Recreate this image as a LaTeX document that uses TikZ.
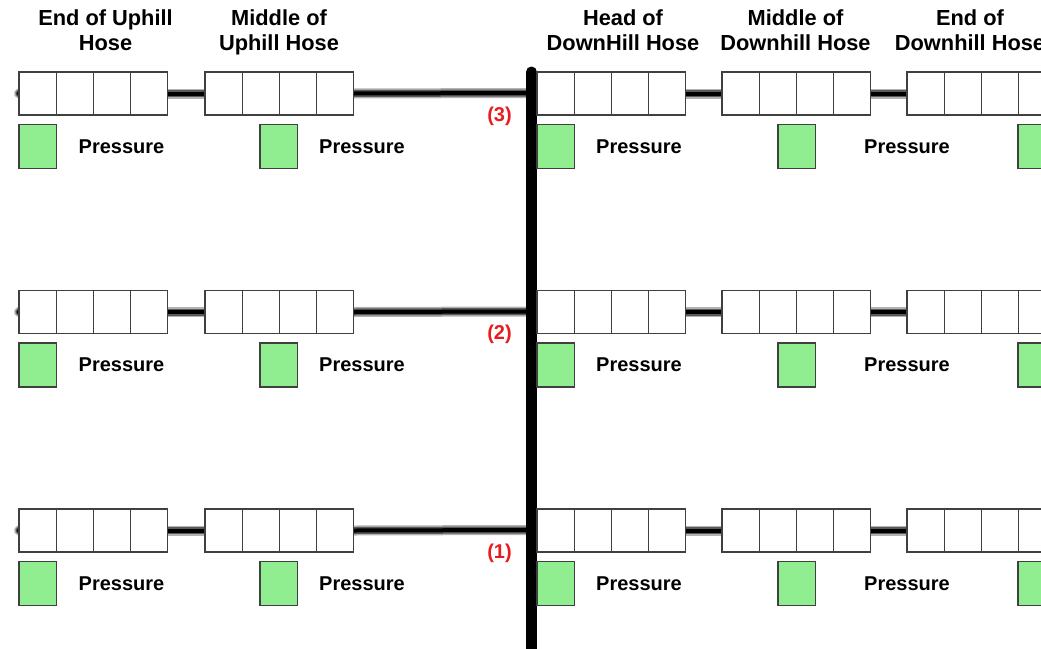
\documentclass[tikz,border=0pt]{standalone}
\usepackage{fontspec}
\setmainfont{Liberation Sans}
\pgfdeclarelayer{bg}
\pgfsetlayers{bg,main}
\definecolor{gaugegreen}{RGB}{144,238,144}
\definecolor{labred}{RGB}{232,28,28}
\begin{document}
\begin{tikzpicture}[x=1pt,y=-1pt,
  cell/.style={draw=black!75,line width=1.3pt,fill=white,minimum width=37.2pt,minimum height=43pt,inner sep=0pt,outer sep=0pt,anchor=north west},
  gauge/.style={draw=black!75,line width=1.3pt,fill=gaugegreen,minimum width=37.5pt,minimum height=44pt,inner sep=0pt,outer sep=0pt,anchor=north west},
  ptext/.style={font=\bfseries\fontsize{20}{24}\selectfont,inner sep=0pt},
  head/.style={font=\bfseries\fontsize{21.8}{25}\selectfont,align=center,inner sep=0pt},
  rowlab/.style={text=labred,font=\bfseries\fontsize{20}{24}\selectfont,inner sep=0pt},
  hoseA/.style={line width=10pt,draw=black!30},
  hoseB/.style={line width=7pt,draw=black!65},
  hoseC/.style={line width=4pt,draw=black},
  barline/.style={line width=11pt,draw=black,line cap=round}
]
\useasboundingbox (0,0) rectangle (1041,648);
\clip (0,0) rectangle (1041,648);

% headers
\node[head] (h1) at (105.5,33) {End of Uphill\strut\\Hose\strut};
\node[head] (h2) at (279,33) {Middle of\strut\\Uphill Hose\strut};
\node[head] (h3) at (623,33) {Head of\strut\\DownHill Hose\strut};
\node[head] (h4) at (795.5,33) {Middle of\strut\\Downhill Hose\strut};
\node[head] (h5) at (970,33) {End of\strut\\Downhill Hose\strut};

% main bar
\coordinate (bartop) at (531.5,72);
\coordinate (barbot) at (531.5,660);
\draw[barline] (bartop) -- (barbot);

\foreach \r/\t/\lab in {1/72/3,2/290.5/2,3/509/1}{
  % cells
  \foreach \g/\gx in {1/19,2/205,3/537,4/722,5/907}{
    \foreach \i in {1,2,3,4}{
      \node[cell] (c-\r-\g-\i) at ({\gx+37.2*(\i-1)},\t) {};
    }
  }
  % gauges
  \foreach \g/\gx in {1/19,2/260,3/537,4/778,5/1018}{
    \node[gauge] (gr-\r-\g) at (\gx,{\t+52.5}) {};
  }
  % pressure labels
  \foreach \g/\px in {1/121.5,2/362,3/639,4/907}{
    \node[ptext] (p-\r-\g) at (\px,{\t+74.5}) {Pressure};
  }
  % row label
  \node[rowlab] (lab-\r) at (499.5,{\t+44}) {(\lab)};
  % hose connectors
  \coordinate (L-\r) at (20,{\t+21});
  \coordinate (B-\r) at (526,{\t+21});
  \begin{pgfonlayer}{bg}
    \foreach \s in {hoseA,hoseB,hoseC}{
      \draw[\s,line cap=round] (L-\r) -- (c-\r-1-1.west);
      \draw[\s] (c-\r-1-4.east) -- (c-\r-2-1.west);
      \draw[\s] (c-\r-2-4.east) -- (B-\r);
      \draw[\s] (c-\r-3-4.east) -- (c-\r-4-1.west);
      \draw[\s] (c-\r-4-4.east) -- (c-\r-5-1.west);
    }
  \end{pgfonlayer}
}
\end{tikzpicture}
\end{document}
